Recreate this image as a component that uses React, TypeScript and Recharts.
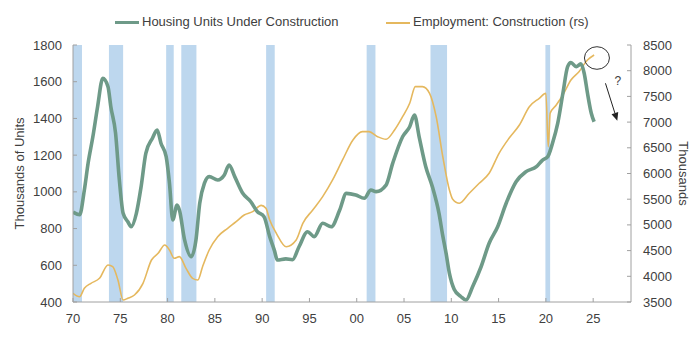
// Housing units under construction vs construction employment, 1970-2025

import {
  LineChart,
  Line,
  XAxis,
  YAxis,
  ReferenceArea,
  ReferenceDot,
  ReferenceLine,
} from "recharts";

// ─── data ────────────────────────────────────────────────────────────────────
const housingYears = [
  1970.0, 1970.7, 1971.2, 1971.6, 1972.1, 1972.6, 1973.15, 1973.7, 1974.0, 1974.5,
  1974.9, 1975.3, 1975.8, 1976.15, 1976.7, 1977.2, 1977.7, 1978.4, 1978.9, 1979.3,
  1979.85, 1980.2, 1980.55, 1981.0, 1981.25, 1981.8, 1982.5, 1983.0, 1983.4, 1983.9,
  1984.4, 1985.3, 1986.0, 1986.5, 1987.1, 1987.95, 1988.8, 1989.5, 1990.2, 1990.8,
  1991.3, 1991.6, 1992.5, 1993.2, 1993.9, 1994.8, 1995.5, 1996.4, 1997.3, 1998.2,
  1998.9, 1999.9, 2000.8, 2001.5, 2002.05, 2003.1, 2003.8, 2004.85, 2005.6, 2006.1,
  2006.6, 2007.3, 2008.0, 2008.7, 2009.1, 2009.45, 2009.8, 2010.3, 2011.0, 2011.55,
  2012.25, 2013.15, 2014.0, 2014.9, 2015.8, 2016.85, 2017.9, 2019.0, 2019.65, 2020.2,
  2020.7, 2021.25, 2021.8, 2022.3, 2022.65, 2023.2, 2023.7, 2024.05, 2024.4, 2024.8,
  2025.1,
];
const housingUnits = [
  890, 875, 1010, 1157, 1300, 1464, 1618, 1573, 1464, 1320,
  1065, 883, 837, 810, 883, 1028, 1210, 1292, 1337, 1265,
  1192, 1047, 847, 928, 901, 738, 647, 738, 938, 1047,
  1083, 1065, 1092, 1146, 1083, 992, 946, 892, 865, 756,
  680, 629, 635, 630, 701, 783, 756, 829, 810, 901,
  992, 983, 965, 1010, 1001, 1037, 1155, 1300, 1355, 1419,
  1300, 1137, 1028, 883, 760, 665, 556, 470, 430, 411,
  483, 592, 720, 810, 938, 1055, 1110, 1137, 1173, 1192,
  1265, 1373, 1537, 1682, 1704, 1682, 1697, 1646, 1537, 1428,
  1382,
];

const employmentYears = [
  1970.0, 1970.7, 1971.2, 1971.9, 1972.8, 1973.7, 1974.2, 1974.75, 1975.3, 1975.8,
  1976.5, 1977.4, 1978.3, 1979.0, 1979.7, 1980.2, 1980.7, 1981.25, 1981.95, 1982.65,
  1983.2, 1983.7, 1984.4, 1985.3, 1986.35, 1987.25, 1988.1, 1989.0, 1989.9, 1990.4,
  1990.8, 1991.5, 1992.55, 1993.6, 1994.3, 1995.35, 1996.4, 1997.45, 1998.5, 1999.6,
  2000.6, 2001.3, 2002.2, 2003.1, 2004.0, 2004.85, 2005.6, 2006.2, 2006.95, 2007.7,
  2008.4, 2009.1, 2009.8, 2010.15, 2010.85, 2011.9, 2012.95, 2014.0, 2015.05, 2016.1,
  2017.2, 2018.25, 2019.3, 2020.0, 2020.25, 2020.45, 2021.1, 2021.8, 2022.65, 2023.5,
  2024.4, 2025.1,
];
const employmentThousands = [
  3669, 3603, 3766, 3864, 3961, 4220, 4187, 3928, 3539, 3572,
  3636, 3864, 4317, 4447, 4609, 4512, 4350, 4382, 4155, 3961,
  3928, 4187, 4512, 4771, 4934, 5063, 5193, 5258, 5380, 5323,
  5096, 4837, 4576, 4706, 5031, 5290, 5549, 5874, 6263, 6652,
  6814, 6814, 6717, 6666, 6847, 7106, 7367, 7690, 7690, 7561,
  7106, 6328, 5680, 5499, 5421, 5615, 5810, 6004, 6393, 6685,
  6944, 7300, 7463, 7561, 6522, 7171, 7333, 7527, 7819, 7981,
  8208, 8306,
];

// shaded recessions
const recessionStarts = [1970.0, 1973.8, 1979.85, 1981.45, 1990.42, 2001.05, 2007.8, 2019.95];
const recessionEnds = [1970.95, 1975.3, 1980.65, 1983.05, 1991.33, 2001.98, 2009.55, 2020.45];

const yearTicks = [1970, 1975, 1980, 1985, 1990, 1995, 2000, 2005, 2010, 2015, 2020, 2025];
const leftTicks = [400, 600, 800, 1000, 1200, 1400, 1600, 1800];
const rightTicks = [3500, 4000, 4500, 5000, 5500, 6000, 6500, 7000, 7500, 8000, 8500];

// annotation anchors (year, right-axis thousands)
const circleAt = { year: 2025.4, value: 8247 };
const arrowFrom = { year: 2026.3, value: 7755 };
const arrowTo = { year: 2027.55, value: 7027 };
const questionAt = { year: 2027.6, value: 7805 };

const housing = housingYears.map((year, i) => ({ year, units: housingUnits[i] }));
const employment = employmentYears.map((year, i) => ({ year, jobs: employmentThousands[i] }));

const GREEN = "#6e9a88";
const GOLD = "#e5b85e";
const BAND = "#bdd7ee";
const AXIS = "#a0a0a0";
const TEXT = "#404040";
const FONT = '"Liberation Sans", Arial, sans-serif';

const txt = { fontFamily: FONT, fontSize: 13, fill: TEXT };

function XTick({ x, y, payload }: any) {
  const v = Number(payload.value) % 100;
  return (
    <g>
      <line x1={x} x2={x} y1={y} y2={y - 4} stroke={AXIS} />
      <text x={x} y={y + 21} textAnchor="middle" {...txt}>
        {String(v).padStart(2, "0")}
      </text>
    </g>
  );
}

function LeftTick({ x, y, payload }: any) {
  return (
    <g>
      <line x1={x} x2={x + 4} y1={y} y2={y} stroke={AXIS} />
      <text x={x - 11} y={y} dy="0.35em" textAnchor="end" {...txt}>
        {payload.value}
      </text>
    </g>
  );
}

function RightTick({ x, y, payload }: any) {
  return (
    <g>
      <line x1={x} x2={x - 4} y1={y} y2={y} stroke={AXIS} />
      <text x={x + 12} y={y} dy="0.35em" textAnchor="start" {...txt}>
        {payload.value}
      </text>
    </g>
  );
}

function AxisTitle({ viewBox, text, side }: any) {
  const vb = viewBox || {};
  const cy = (vb.y ?? 45) + (vb.height ?? 257) / 2;
  const cx = side === "left" ? (vb.x ?? 0) + 19 : (vb.x ?? 631) + 52;
  return (
    <text
      x={cx}
      y={cy}
      transform={`rotate(${side === "left" ? -90 : 90} ${cx} ${cy})`}
      textAnchor="middle"
      dominantBaseline="central"
      {...txt}
    >
      {text}
    </text>
  );
}

function Arrow({ x1, y1, x2, y2 }: any) {
  const ang = Math.atan2(y2 - y1, x2 - x1);
  const len = 8;
  const w = 3.5;
  const bx = x2 - len * Math.cos(ang);
  const by = y2 - len * Math.sin(ang);
  const px = -Math.sin(ang) * w;
  const py = Math.cos(ang) * w;
  return (
    <g>
      <line x1={x1} y1={y1} x2={bx} y2={by} stroke="#222" strokeWidth={1} />
      <polygon points={`${x2},${y2} ${bx + px},${by + py} ${bx - px},${by - py}`} fill="#222" />
    </g>
  );
}

function LegendItem({ color, thick, label, left }: any) {
  return (
    <div
      style={{
        position: "absolute",
        left,
        top: 14,
        display: "flex",
        alignItems: "center",
        fontFamily: FONT,
        fontSize: 13,
        color: TEXT,
        whiteSpace: "nowrap",
      }}
    >
      <span style={{ display: "inline-block", width: 24, height: thick, background: color, marginRight: 3, marginTop: 2 }} />
      {label}
    </div>
  );
}

export default function App() {
  return (
    <div style={{ position: "absolute", left: 0, top: 0, width: 700, height: 349, background: "#fff" }}>
      <LegendItem color={GREEN} thick={3} label="Housing Units Under Construction" left={115} />
      <LegendItem color={GOLD} thick={2} label="Employment: Construction (rs)" left={386} />
      <LineChart width={700} height={349} margin={{ top: 45, right: 0, bottom: 17, left: 0 }}>
        <XAxis
          dataKey="year"
          type="number"
          domain={[1970, 2029]}
          ticks={yearTicks}
          allowDataOverflow
          height={30}
          stroke={AXIS}
          tickLine={false}
          tickSize={0}
          tickMargin={0}
          tick={<XTick />}
          interval={0}
        />
        <YAxis
          yAxisId="left"
          domain={[400, 1800]}
          ticks={leftTicks}
          width={73}
          stroke={AXIS}
          tickLine={false}
          tickSize={0}
          tickMargin={0}
          tick={<LeftTick />}
          interval={0}
          label={<AxisTitle side="left" text="Thousands of Units" />}
        />
        <YAxis
          yAxisId="right"
          orientation="right"
          domain={[3500, 8500]}
          ticks={rightTicks}
          width={69}
          stroke={AXIS}
          tickLine={false}
          tickSize={0}
          tickMargin={0}
          tick={<RightTick />}
          interval={0}
          label={<AxisTitle side="right" text="Thousands" />}
        />
        {recessionStarts.map((s, i) => (
          <ReferenceArea
            key={s}
            yAxisId="left"
            x1={s}
            x2={recessionEnds[i]}
            y1={400}
            y2={1800}
            fill={BAND}
            fillOpacity={1}
            stroke="none"
            ifOverflow="hidden"
          />
        ))}
        <Line
          data={employment}
          yAxisId="right"
          dataKey="jobs"
          stroke={GOLD}
          strokeWidth={1.6}
          strokeLinejoin="round"
          dot={false}
          type="monotone"
          isAnimationActive={false}
        />
        <Line
          data={housing}
          yAxisId="left"
          dataKey="units"
          stroke={GREEN}
          strokeWidth={3.6}
          strokeLinejoin="round"
          dot={false}
          type="monotone"
          isAnimationActive={false}
        />
        <ReferenceDot
          yAxisId="right"
          x={circleAt.year}
          y={circleAt.value}
          r={12}
          shape={(p: any) => (
            <ellipse cx={p.cx} cy={p.cy} rx={12.5} ry={11.3} fill="none" stroke="#333" strokeWidth={1} />
          )}
        />
        <ReferenceLine
          yAxisId="right"
          segment={[
            { x: arrowFrom.year, y: arrowFrom.value },
            { x: arrowTo.year, y: arrowTo.value },
          ]}
          shape={(p: any) => <Arrow {...p} />}
        />
        <ReferenceDot
          yAxisId="right"
          x={questionAt.year}
          y={questionAt.value}
          r={1}
          shape={(p: any) => (
            <text x={p.cx} y={p.cy} textAnchor="middle" dominantBaseline="central" {...txt} fontSize={12}>
              ?
            </text>
          )}
        />
      </LineChart>
    </div>
  );
}
